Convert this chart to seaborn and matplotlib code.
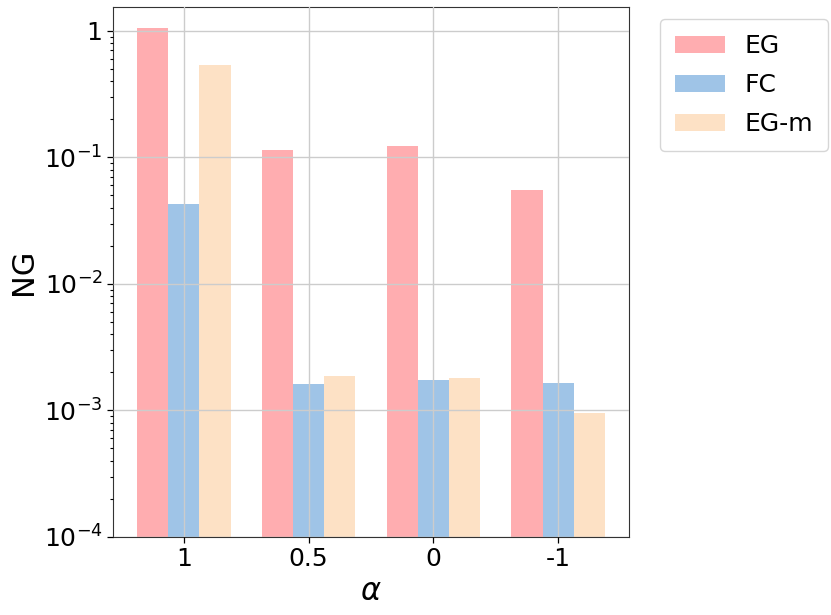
import pandas as pd
import numpy as np
import matplotlib.pyplot as plt
import matplotlib.ticker as mticker
import seaborn as sns

alphas = ['1', '0.5', '0', '-1']
eg = [1.06, 0.115, 0.1235, 0.0555]
fc = [0.043, 0.00163, 0.00175, 0.00166]
eg_m = [0.54, 0.00188, 0.00179, 0.00096]

df = pd.DataFrame({
    'alpha': alphas * 3,
    'NG': eg + fc + eg_m,
    'method': ['EG'] * 4 + ['FC'] * 4 + ['EG-m'] * 4,
})

sns.set_style("ticks")
plt.rcParams.update({'text.color': 'black', 'axes.labelcolor': 'black',
                     'xtick.color': 'black', 'ytick.color': 'black'})
palette = {'EG': '#ffadb0', 'FC': '#9fc4e7', 'EG-m': '#fde1c5'}

fig = plt.figure(figsize=(8.31, 6.15), dpi=100)
ax = fig.add_axes([0.136, 0.127, 0.621, 0.862])
sns.barplot(data=df, x='alpha', y='NG', hue='method', palette=palette,
            width=0.75, saturation=1, edgecolor='none', ax=ax)
ax.set_yscale('log')
ax.set_ylim(1e-4, 1.55)
ax.set_xlim(-0.568, 3.568)
ax.grid(True, color='#cccccc', linewidth=1)
ax.set_axisbelow(False)
for p in ax.patches:
    p.set_zorder(1)
ax.set_yticks([1e-4, 1e-3, 1e-2, 1e-1, 1])
ax.set_yticklabels([r'$10^{-4}$', r'$10^{-3}$', r'$10^{-2}$', r'$10^{-1}$', '1'])
ax.yaxis.set_minor_locator(mticker.LogLocator(base=10, subs=np.arange(2, 10), numticks=20))
ax.yaxis.set_minor_formatter(mticker.NullFormatter())
ax.tick_params(axis='y', which='minor', left=True, length=2.5, width=0.8, color='black')
ax.tick_params(axis='both', which='major', left=True, bottom=True, labelsize=18,
               length=4, width=0.9, color='black')
ax.set_xlabel(r'$\alpha$', fontsize=22)
ax.set_ylabel('NG', fontsize=22)
for s in ax.spines.values():
    s.set_color('#333333')
ax.legend(loc='upper left', bbox_to_anchor=(1.035, 1.0), fontsize=18,
          handlelength=2.0, borderpad=0.6, labelspacing=0.6, handletextpad=0.8)

fig.savefig('out.png', dpi=100)
